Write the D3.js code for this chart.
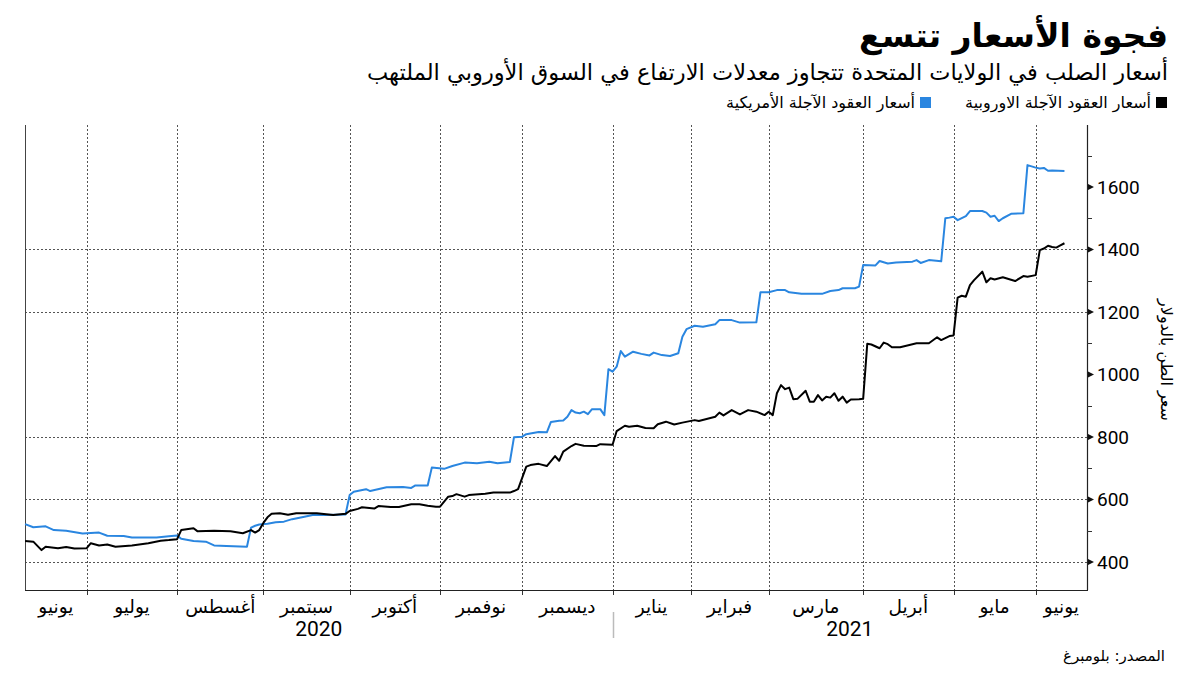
<!DOCTYPE html>
<html><head><meta charset="utf-8">
<script src="https://cdn.jsdelivr.net/npm/d3@7"></script>
<style>
body{margin:0;background:#fff}
text{font-family:"DejaVu Sans",sans-serif;fill:#000}
.num{font-family:Roboto,"DejaVu Sans",sans-serif}
</style>
</head><body>
<svg id="chart" width="1200" height="675"></svg>
<script>
// ---------- text ----------
const titleText = "فجوة الأسعار تتسع";
const subtitleText = "أسعار الصلب في الولايات المتحدة تتجاوز معدلات الارتفاع في السوق الأوروبي الملتهب";
const legendLabels = ["أسعار العقود الآجلة الاوروبية", "أسعار العقود الآجلة الأمريكية"];
const yAxisTitle = "سعر الطن بالدولار";
const sourceText = "المصدر: بلومبرغ";

// ---------- axes ----------
const monthLabels = ["يونيو","يوليو","أغسطس","سبتمبر","أكتوبر","نوفمبر","ديسمبر","يناير","فبراير","مارس","أبريل","مايو","يونيو"];
const monthStarts = ["2020-07-01","2020-08-03","2020-09-01","2020-10-01","2020-11-02","2020-12-01","2021-01-04","2021-02-01","2021-03-01","2021-04-01","2021-05-03","2021-06-01"];
const yearLabels = ["2020","2021"];
const yTicks = [400,600,800,1000,1200,1400,1600];
const yMinorTicks = [500,700,900,1100,1300,1500,1700];
const yGridValues = [400,600,800,1200,1400];
const domainStart = "2020-06-10";
const domainEnd = "2021-06-18";
const marketHolidays = ["2020-07-03","2020-09-07","2020-11-26","2020-12-25","2021-01-01","2021-01-18","2021-02-15","2021-05-31"];

// ---------- data: European futures (black) ----------
const euDates = ["2020-06-10","2020-06-12","2020-06-16","2020-06-17","2020-06-22","2020-06-24","2020-06-26","2020-07-01","2020-07-02","2020-07-07","2020-07-09","2020-07-13","2020-07-17","2020-07-23","2020-07-28","2020-07-30","2020-08-03","2020-08-04","2020-08-07","2020-08-10","2020-08-14","2020-08-20","2020-08-25","2020-08-27","2020-08-28","2020-08-31","2020-09-01","2020-09-02","2020-09-03","2020-09-08","2020-09-10","2020-09-14","2020-09-21","2020-09-25","2020-09-30","2020-10-01","2020-10-05","2020-10-06","2020-10-09","2020-10-12","2020-10-15","2020-10-19","2020-10-22","2020-10-26","2020-10-28","2020-10-30","2020-11-02","2020-11-04","2020-11-05","2020-11-06","2020-11-10","2020-11-11","2020-11-17","2020-11-19","2020-11-25","2020-11-27","2020-11-30","2020-12-02","2020-12-03","2020-12-07","2020-12-09","2020-12-11","2020-12-14","2020-12-15","2020-12-17","2020-12-18","2020-12-22","2020-12-28","2020-12-29","2021-01-04","2021-01-05","2021-01-07","2021-01-08","2021-01-12","2021-01-14","2021-01-19","2021-01-20","2021-01-22","2021-01-26","2021-01-28","2021-02-02","2021-02-03","2021-02-09","2021-02-10","2021-02-11","2021-02-16","2021-02-18","2021-02-22","2021-02-24","2021-02-26","2021-03-01","2021-03-02","2021-03-03","2021-03-04","2021-03-05","2021-03-08","2021-03-09","2021-03-10","2021-03-12","2021-03-15","2021-03-16","2021-03-17","2021-03-18","2021-03-19","2021-03-22","2021-03-23","2021-03-24","2021-03-25","2021-03-26","2021-03-29","2021-03-31","2021-04-01","2021-04-02","2021-04-05","2021-04-07","2021-04-08","2021-04-09","2021-04-12","2021-04-14","2021-04-20","2021-04-23","2021-04-27","2021-04-28","2021-04-30","2021-05-03","2021-05-04","2021-05-05","2021-05-06","2021-05-07","2021-05-10","2021-05-12","2021-05-13","2021-05-14","2021-05-17","2021-05-19","2021-05-20","2021-05-24","2021-05-26","2021-05-27","2021-06-01","2021-06-02","2021-06-03","2021-06-04","2021-06-07","2021-06-08","2021-06-09","2021-06-10"];
const euValues = [467,465,438,449,444,448,443,444,460,453,456,449,453,460,468,470,473,502,508,498,500,498,492,502,494,502,525,543,554,556,551,556,556,550,554,563,570,575,571,579,576,576,585,585,580,577,577,609,611,617,609,614,618,622,622,627,633,705,710,714,707,739,724,753,771,778,772,771,777,775,819,836,833,836,829,828,841,849,840,846,854,851,865,878,869,886,872,886,881,870,881,870,940,966,953,958,921,922,948,913,913,934,917,929,926,940,916,929,910,920,921,922,1098,1096,1084,1102,1097,1087,1087,1100,1100,1119,1110,1123,1125,1246,1252,1249,1286,1302,1329,1295,1308,1304,1311,1307,1299,1315,1313,1318,1398,1403,1412,1408,1406,1413,1420];

// ---------- data: US futures (blue) ----------
const usDates = ["2020-06-10","2020-06-12","2020-06-17","2020-06-19","2020-06-24","2020-06-30","2020-07-07","2020-07-09","2020-07-15","2020-07-17","2020-07-22","2020-07-27","2020-07-30","2020-08-03","2020-08-04","2020-08-07","2020-08-12","2020-08-14","2020-08-19","2020-08-26","2020-08-27","2020-08-28","2020-08-31","2020-09-02","2020-09-04","2020-09-09","2020-09-11","2020-09-16","2020-09-18","2020-09-23","2020-09-30","2020-10-01","2020-10-02","2020-10-07","2020-10-08","2020-10-14","2020-10-20","2020-10-22","2020-10-23","2020-10-28","2020-10-29","2020-11-03","2020-11-05","2020-11-10","2020-11-13","2020-11-18","2020-11-20","2020-11-25","2020-11-27","2020-12-01","2020-12-02","2020-12-07","2020-12-09","2020-12-10","2020-12-14","2020-12-15","2020-12-16","2020-12-17","2020-12-18","2020-12-21","2020-12-22","2020-12-23","2020-12-24","2020-12-29","2020-12-30","2020-12-31","2021-01-04","2021-01-05","2021-01-06","2021-01-07","2021-01-11","2021-01-13","2021-01-15","2021-01-19","2021-01-21","2021-01-25","2021-01-27","2021-01-28","2021-01-29","2021-02-02","2021-02-04","2021-02-09","2021-02-10","2021-02-16","2021-02-18","2021-02-24","2021-02-25","2021-03-01","2021-03-03","2021-03-05","2021-03-08","2021-03-11","2021-03-18","2021-03-22","2021-03-24","2021-03-25","2021-03-30","2021-03-31","2021-04-01","2021-04-06","2021-04-07","2021-04-09","2021-04-13","2021-04-19","2021-04-20","2021-04-21","2021-04-23","2021-04-28","2021-04-29","2021-04-30","2021-05-03","2021-05-04","2021-05-06","2021-05-07","2021-05-12","2021-05-13","2021-05-14","2021-05-17","2021-05-18","2021-05-19","2021-05-21","2021-05-26","2021-05-27","2021-05-28","2021-06-01","2021-06-02","2021-06-03","2021-06-04","2021-06-07","2021-06-10"];
const usValues = [521,511,514,502,500,491,494,484,483,478,478,478,482,485,474,467,465,453,451,449,510,516,520,522,527,529,537,545,550,550,552,614,625,633,627,639,640,637,645,645,702,698,707,718,716,721,716,720,799,801,809,816,815,848,852,853,865,886,878,876,881,873,889,889,870,1017,1009,1025,1075,1057,1073,1066,1061,1070,1062,1059,1068,1121,1145,1156,1153,1161,1174,1174,1166,1167,1263,1263,1270,1270,1263,1258,1258,1267,1270,1276,1276,1281,1350,1349,1363,1355,1358,1361,1366,1357,1366,1362,1500,1502,1505,1494,1507,1523,1523,1518,1505,1508,1491,1500,1514,1516,1670,1666,1662,1659,1661,1652,1653,1651];

// ---------- trading-day index ----------
const parse = d3.timeParse("%Y-%m-%d");
const fmt = d3.timeFormat("%Y-%m-%d");
const holidaySet = new Set(marketHolidays);
const startDate = parse(domainStart);
function tradingIndex(s) {
  const d = parse(s);
  return d3.timeDay.range(startDate, d)
    .filter(t => t.getDay() !== 0 && t.getDay() !== 6 && !holidaySet.has(fmt(t))).length;
}

// ---------- layout ----------
const svg = d3.select("#chart");
const plot = {left: 25, right: 1087, top: 125, bottom: 590};

const x = d3.scaleLinear()
  .domain([0, tradingIndex(domainEnd)])
  .range([25.1, 1089.1]);
const y = d3.scaleLinear().domain([310, 1800]).range([590.1, 124.5]);

// horizontal grid
svg.append("g").selectAll("line").data(yGridValues).join("line")
  .attr("x1", plot.left).attr("x2", plot.right)
  .attr("y1", d => Math.round(y(d)) + 0.5).attr("y2", d => Math.round(y(d)) + 0.5)
  .attr("stroke", "#555").attr("stroke-width", 1).attr("stroke-dasharray", "2,2");

// vertical grid at month starts
const monthX = monthStarts.map(s => x(tradingIndex(s)));
svg.append("g").selectAll("line").data(monthX).join("line")
  .attr("x1", d => Math.round(d) + 0.5).attr("x2", d => Math.round(d) + 0.5)
  .attr("y1", plot.top).attr("y2", plot.bottom)
  .attr("stroke", "#555").attr("stroke-width", 1).attr("stroke-dasharray", "2,2");

// x tick marks
svg.append("g").selectAll("line").data(monthX).join("line")
  .attr("x1", d => Math.round(d) + 0.5).attr("x2", d => Math.round(d) + 0.5)
  .attr("y1", plot.bottom).attr("y2", plot.bottom + 5)
  .attr("stroke", "#333").attr("stroke-width", 1);

// frame lines
svg.append("line").attr("x1", plot.left + 0.5).attr("x2", plot.left + 0.5)
  .attr("y1", plot.top).attr("y2", plot.bottom).attr("stroke", "#444");
svg.append("line").attr("x1", plot.right + 0.5).attr("x2", plot.right + 0.5)
  .attr("y1", plot.top).attr("y2", plot.bottom).attr("stroke", "#222").attr("stroke-width", 1.2);
svg.append("line").attr("x1", plot.left).attr("x2", plot.right + 1)
  .attr("y1", plot.bottom + 0.5).attr("y2", plot.bottom + 0.5).attr("stroke", "#222").attr("stroke-width", 1.2);

// y ticks (right)
svg.append("g").selectAll("path").data(yTicks).join("path")
  .attr("d", d => `M${plot.right + 1},${y(d) - 3}L${plot.right + 7},${y(d)}L${plot.right + 1},${y(d) + 3}Z`)
  .attr("fill", "#111");
svg.append("g").selectAll("line").data(yMinorTicks).join("line")
  .attr("x1", plot.right).attr("x2", plot.right + 5)
  .attr("y1", d => Math.round(y(d)) + 0.5).attr("y2", d => Math.round(y(d)) + 0.5)
  .attr("stroke", "#333");
svg.append("g").selectAll("text").data(yTicks).join("text")
  .attr("class", "num")
  .attr("x", plot.right + 10).attr("y", d => y(d))
  .attr("dy", "0.35em").attr("font-size", 19)
  .text(d => d);

// y axis title
svg.append("text")
  .attr("transform", "translate(1161,360) rotate(90)")
  .attr("text-anchor", "middle").attr("font-size", 16)
  .text(yAxisTitle);

// month labels centered between boundaries
const bounds = [plot.left, ...monthX, plot.right];
svg.append("g").selectAll("text").data(monthLabels).join("text")
  .attr("x", (d, i) => (bounds[i] + bounds[i + 1]) / 2)
  .attr("y", 613).attr("text-anchor", "middle").attr("font-size", 18.5)
  .text(d => d);

// year labels
const janX = x(tradingIndex(monthStarts[6]));
const yearCenters = [(plot.left + janX) / 2, (janX + plot.right) / 2];
svg.append("g").selectAll("text").data(yearLabels).join("text")
  .attr("class", "num")
  .attr("x", (d, i) => yearCenters[i]).attr("y", 636)
  .attr("text-anchor", "middle").attr("font-size", 21)
  .text(d => d);
svg.append("line").attr("x1", Math.round(janX) + 0.5).attr("x2", Math.round(janX) + 0.5)
  .attr("y1", 612).attr("y2", 638).attr("stroke", "#bbb").attr("stroke-width", 1.5);

// lines
const line = d3.line().x(d => x(d[0])).y(d => y(d[1]));
const euData = euDates.map((s, i) => [tradingIndex(s), euValues[i]]);
const usData = usDates.map((s, i) => [tradingIndex(s), usValues[i]]);
svg.append("path").datum(usData).attr("d", line)
  .attr("fill", "none").attr("stroke", "#2a86e0").attr("stroke-width", 2).attr("stroke-linejoin", "round");
svg.append("path").datum(euData).attr("d", line)
  .attr("fill", "none").attr("stroke", "#000").attr("stroke-width", 2).attr("stroke-linejoin", "round");

// title & subtitle
svg.append("text").attr("x", 1168).attr("y", 47).attr("text-anchor", "end")
  .attr("font-size", 33).attr("font-weight", "bold").text(titleText);
svg.append("text").attr("x", 1168).attr("y", 80).attr("text-anchor", "end")
  .attr("font-size", 22.5).text(subtitleText);

// legend
const legendColors = ["#000", "#2a86e0"];
const legendRight = [1167, 931];
legendLabels.forEach((lab, i) => {
  svg.append("rect").attr("x", legendRight[i] - 11).attr("y", 97).attr("width", 11).attr("height", 11)
    .attr("fill", legendColors[i]);
  svg.append("text").attr("x", legendRight[i] - 16).attr("y", 108).attr("text-anchor", "end")
    .attr("font-size", 16).text(lab);
});

// source
svg.append("text").attr("x", 1165).attr("y", 661).attr("text-anchor", "end")
  .attr("font-size", 15).text(sourceText);
</script>
</body></html>
